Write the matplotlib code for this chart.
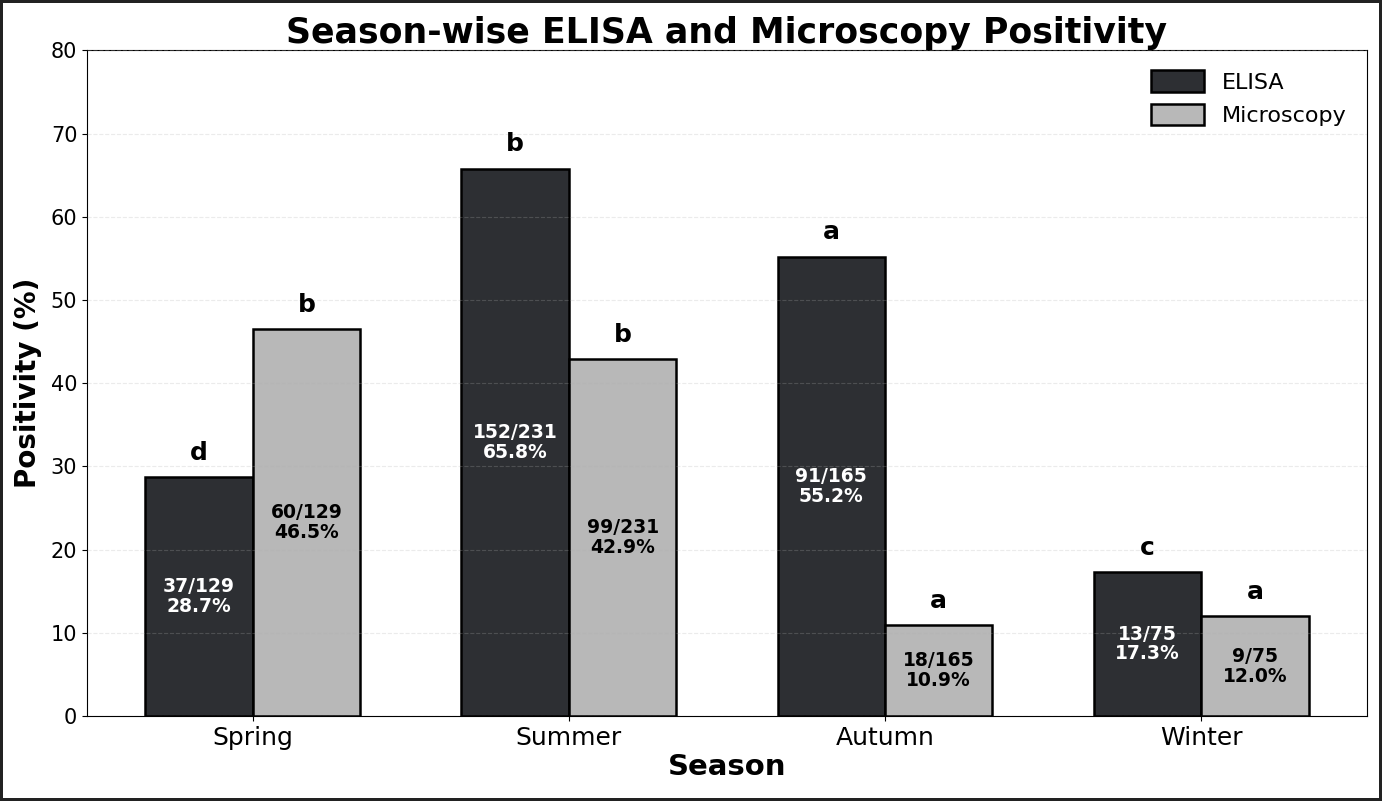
import numpy as np
import matplotlib.pyplot as plt

# data
seasons = ['Spring', 'Summer', 'Autumn', 'Winter']
elisa_pos = [37, 152, 91, 13]
micro_pos = [60, 99, 18, 9]
totals = [129, 231, 165, 75]
elisa_pct = [28.7, 65.8, 55.2, 17.3]
micro_pct = [46.5, 42.9, 10.9, 12.0]
elisa_letters = ['d', 'b', 'a', 'c']
micro_letters = ['b', 'b', 'a', 'a']

fig, ax = plt.subplots(figsize=(13.82, 8.01), dpi=100)
fig.patch.set_edgecolor('#222222')
fig.patch.set_linewidth(4)

x = np.arange(len(seasons))
w = 0.34

b1 = ax.bar(x - w/2, elisa_pct, w, color='#2d2f33', edgecolor='black', linewidth=1.8, label='ELISA')
b2 = ax.bar(x + w/2, micro_pct, w, color='#b8b8b8', edgecolor='black', linewidth=1.8, label='Microscopy')

for i in range(len(seasons)):
    ax.text(x[i] - w/2, elisa_pct[i] / 2, f'{elisa_pos[i]}/{totals[i]}\n{elisa_pct[i]:.1f}%',
            ha='center', va='center', color='white', fontsize=13.5, fontweight='bold', linespacing=1.05)
    ax.text(x[i] + w/2, micro_pct[i] / 2, f'{micro_pos[i]}/{totals[i]}\n{micro_pct[i]:.1f}%',
            ha='center', va='center', color='black', fontsize=13.5, fontweight='bold', linespacing=1.05)
    ax.text(x[i] - w/2, elisa_pct[i] + 1.5, elisa_letters[i], ha='center', va='bottom',
            fontsize=18, fontweight='bold')
    ax.text(x[i] + w/2, micro_pct[i] + 1.5, micro_letters[i], ha='center', va='bottom',
            fontsize=18, fontweight='bold')

ax.set_ylim(0, 80)
ax.set_xticks(x)
ax.set_xticklabels(seasons, fontsize=18)
ax.tick_params(axis='y', labelsize=15)
ax.set_xlabel('Season', fontsize=21, fontweight='bold', labelpad=2)
ax.set_ylabel('Positivity (%)', fontsize=20, fontweight='bold', labelpad=6)
ax.set_title('Season-wise ELISA and Microscopy Positivity', fontsize=25, fontweight='bold', pad=5)
ax.grid(axis='y', linestyle='--', alpha=0.25)
ax.set_axisbelow(False)
ax.legend(loc='upper right', fontsize=16, frameon=False, handlelength=2.4, handleheight=1.1)

plt.subplots_adjust(left=0.063, right=0.989, top=0.937, bottom=0.106)
fig.savefig('out.png', dpi=100, edgecolor=fig.get_edgecolor())
